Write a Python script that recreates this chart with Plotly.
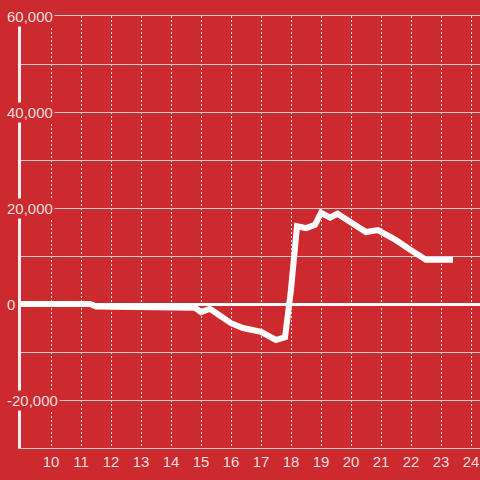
import plotly.graph_objects as go

# Data
hours = [9, 11.3, 11.5, 14.6, 14.8, 15.0, 15.3, 15.6, 16.0, 16.4, 17.0, 17.5, 17.8, 18.0,
         18.2, 18.5, 18.8, 19.0, 19.3, 19.55, 20.0, 20.5, 20.9, 21.2, 21.5, 22.0, 22.5, 23.4]
values = [0, 0, -500, -500, -800, -1700, -1000, -2300, -4000, -5000, -5800, -7500, -6900, 3000,
          16200, 15800, 16500, 19000, 18000, 18800, 16900, 15000, 15400, 14400, 13300, 11200, 9200, 9200]

x_ticks = list(range(10, 25))
x_tick_labels = [str(v) for v in x_ticks]
y_ticks = [-20000, 0, 20000, 40000, 60000]
y_tick_labels = ["-20,000", "0", "20,000", "40,000", "60,000"]

BG = "#cc2a2f"
TXT = "#f3dfdf"
FONT = "Liberation Sans, Arial, sans-serif"

fig = go.Figure()
fig.add_trace(go.Scatter(x=hours, y=values, mode="lines",
                         line=dict(color="white", width=6), hoverinfo="skip"))

annotations = []
for v, t in zip(y_ticks, y_tick_labels):
    annotations.append(dict(x=(5 - 21) / 459, xref="paper", y=v, yref="y", text=t,
                            showarrow=False, xanchor="left", yanchor="middle",
                            bgcolor=BG, borderpad=1,
                            font=dict(family=FONT, size=15, color=TXT)))

fig.update_layout(
    width=480, height=480,
    margin=dict(l=21, r=0, t=16, b=32, autoexpand=False),
    paper_bgcolor=BG, plot_bgcolor=BG,
    showlegend=False,
    font=dict(family=FONT, size=15, color=TXT),
    annotations=annotations,
    xaxis=dict(range=[9, 24.3], tickmode="array", tickvals=x_ticks, ticktext=x_tick_labels,
               showgrid=True, gridcolor="rgba(255,255,255,0.85)", gridwidth=1, griddash="2px,2px",
               zeroline=False, showline=True, linecolor="#cccccc", linewidth=1, mirror=True,
               ticks="", tickfont=dict(family=FONT, size=15, color=TXT)),
    yaxis=dict(range=[-30000, 60000], tickmode="linear", tick0=0, dtick=10000,
               showticklabels=False, showgrid=True, gridcolor="#cccccc", gridwidth=1,
               zeroline=True, zerolinecolor="white", zerolinewidth=3,
               showline=True, linecolor="#f2f2f2", linewidth=3, ticks=""),
)

fig.write_html("out.html", config={"displayModeBar": False},
               post_script="document.body.style.margin='0';document.body.style.overflow='hidden';")
